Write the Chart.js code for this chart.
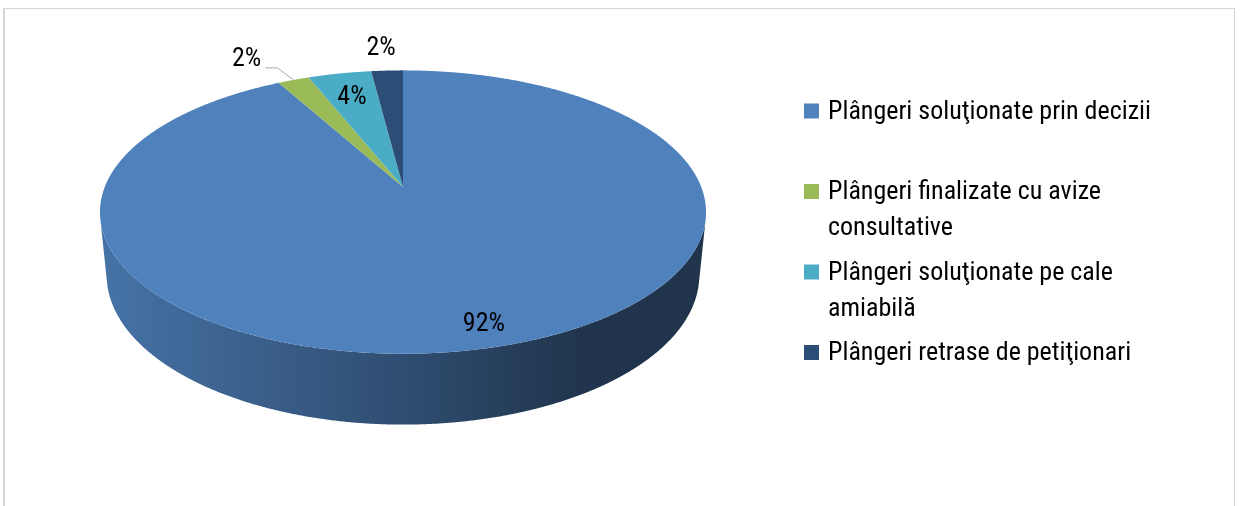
<!DOCTYPE html>
<html>
<head>
<meta charset="utf-8">
<script src="https://cdn.jsdelivr.net/npm/chart.js@4.4.1/dist/chart.umd.min.js"></script>
<style>
  html, body { margin: 0; padding: 0; background: #fff; }
  #frame {
    position: absolute; left: 3px; top: 8px; width: 1229px; height: 520px;
    border: 1px solid #d6d6d6; border-left: 2px solid #d6d6d6;
  }
  #pie { position: absolute; left: 0; top: 0; }
</style>
</head>
<body>
<div id="frame"></div>
<canvas id="pie" width="1240" height="506"></canvas>
<script>
const categories = [
  'Plângeri soluţionate prin decizii',
  'Plângeri finalizate cu avize consultative',
  'Plângeri soluţionate pe cale amiabilă',
  'Plângeri retrase de petiţionari'
];
const shares = [92, 2, 4, 2];
const sliceColors = ['#4F81BD', '#9BBB59', '#4BACC6', '#2C4D75'];

const FONT = '"Roboto Condensed", "Liberation Sans Narrow", "Arial Narrow", "DejaVu Sans Condensed", Roboto, sans-serif';

// perspective camera for the tilted disc
const TILT = 27.4 * Math.PI / 180;
const DIST = 5.02;
const THICK = 0.24;
const SPREAD = 1.595;

function projector(arc) {
  const f = arc.outerRadius * SPREAD * DIST;
  const s = Math.sin(TILT), c = Math.cos(TILT);
  return (a, r, h) => {
    const u = Math.cos(a) * r, v = Math.sin(a) * r;
    const yc = h * c - v * s;
    const zc = DIST - v * c - h * s;
    return [arc.x + f * u / zc, arc.y - f * yc / zc];
  };
}

function shade(hex, k) {
  const n = parseInt(hex.slice(1), 16);
  const r = Math.round(((n >> 16) & 255) * k);
  const g = Math.round(((n >> 8) & 255) * k);
  const b = Math.round((n & 255) * k);
  return `rgb(${r},${g},${b})`;
}

function arcPoints(P, a0, a1, h) {
  const pts = [];
  const steps = Math.max(2, Math.ceil((a1 - a0) / 0.005));
  for (let i = 0; i <= steps; i++) pts.push(P(a0 + (a1 - a0) * i / steps, 1, h));
  return pts;
}

const pie3d = {
  id: 'pie3d',
  beforeDatasetsDraw(chart) {
    const ctx = chart.ctx;
    const arcs = chart.getDatasetMeta(0).data;
    const P = projector(arcs[0]);
    const colors = chart.data.datasets[0].backgroundColor;

    // outer wall, only the part that faces the viewer
    const edge = Math.asin(1 / (DIST * Math.cos(TILT)));
    const left = P(Math.PI, 1, 0)[0], right = P(0, 1, 0)[0];
    arcs.forEach((arc, i) => {
      const a0 = Math.max(arc.startAngle, edge);
      const a1 = Math.min(arc.endAngle, Math.PI - edge);
      if (a1 <= a0) return;
      const top = arcPoints(P, a0, a1, 0);
      const bottom = arcPoints(P, a0, a1, -THICK).reverse();
      const grad = ctx.createLinearGradient(left, 0, right, 0);
      grad.addColorStop(0, shade(colors[i], 0.88));
      grad.addColorStop(0.5, shade(colors[i], 0.6));
      grad.addColorStop(0.8, shade(colors[i], 0.41));
      grad.addColorStop(1, shade(colors[i], 0.4));
      ctx.beginPath();
      top.concat(bottom).forEach(([x, y], k) => k ? ctx.lineTo(x, y) : ctx.moveTo(x, y));
      ctx.closePath();
      ctx.fillStyle = grad;
      ctx.fill();
    });

    // top faces
    arcs.forEach((arc, i) => {
      const c = P(0, 0, 0);
      ctx.beginPath();
      ctx.moveTo(c[0], c[1]);
      arcPoints(P, arc.startAngle, arc.endAngle, 0).forEach(([x, y]) => ctx.lineTo(x, y));
      ctx.closePath();
      ctx.fillStyle = colors[i];
      ctx.fill();
    });

    // percentage labels
    const place = [
      { r: 0.88, dx: 4, dy: 0 },
      { r: 1, dx: -47, dy: -20, lead: true },
      { r: 0.78, dx: 0, dy: 2 },
      { r: 1, dx: -6, dy: -22 }
    ];
    ctx.font = `26px ${FONT}`;
    ctx.fillStyle = '#000';
    ctx.textAlign = 'center';
    ctx.textBaseline = 'middle';
    arcs.forEach((arc, i) => {
      const mid = (arc.startAngle + arc.endAngle) / 2;
      const p = place[i];
      const [x, y] = P(mid, p.r, 0);
      if (p.lead) {
        ctx.strokeStyle = '#a6a6a6';
        ctx.lineWidth = 1;
        ctx.beginPath();
        ctx.moveTo(x, y);
        ctx.lineTo(x - 16, y - 12);
        ctx.lineTo(x - 28, y - 12);
        ctx.stroke();
      }
      ctx.fillText(chart.data.datasets[0].data[i] + '%', x + p.dx, y + p.dy);
    });
    return false;
  }
};

function wrap(ctx, text, maxWidth) {
  const lines = [];
  let line = '';
  text.split(' ').forEach(w => {
    const test = line ? line + ' ' + w : w;
    if (line && ctx.measureText(test).width > maxWidth) { lines.push(line); line = w; }
    else line = test;
  });
  lines.push(line);
  return lines;
}

const sideLegend = {
  id: 'sideLegend',
  afterDraw(chart) {
    const ctx = chart.ctx;
    const colors = chart.data.datasets[0].backgroundColor;
    ctx.save();
    ctx.font = `26px ${FONT}`;
    ctx.textAlign = 'left';
    ctx.textBaseline = 'middle';
    chart.data.labels.forEach((label, i) => {
      const y = 111 + i * 80.5;
      ctx.fillStyle = colors[i];
      ctx.fillRect(804, y - 7.5, 15, 15);
      ctx.fillStyle = '#000';
      wrap(ctx, label, 340).forEach((ln, k) => ctx.fillText(ln, 828, y + 1 + k * 36));
    });
    ctx.restore();
  }
};

new Chart(document.getElementById('pie'), {
  type: 'pie',
  data: {
    labels: categories,
    datasets: [{ data: shares, backgroundColor: sliceColors, borderWidth: 0 }]
  },
  options: {
    responsive: false,
    animation: false,
    layout: { padding: { left: 0, right: 434, top: 0, bottom: 132 } },
    plugins: { legend: { display: false }, tooltip: { enabled: false } }
  },
  plugins: [pie3d, sideLegend]
});
</script>
</body>
</html>
